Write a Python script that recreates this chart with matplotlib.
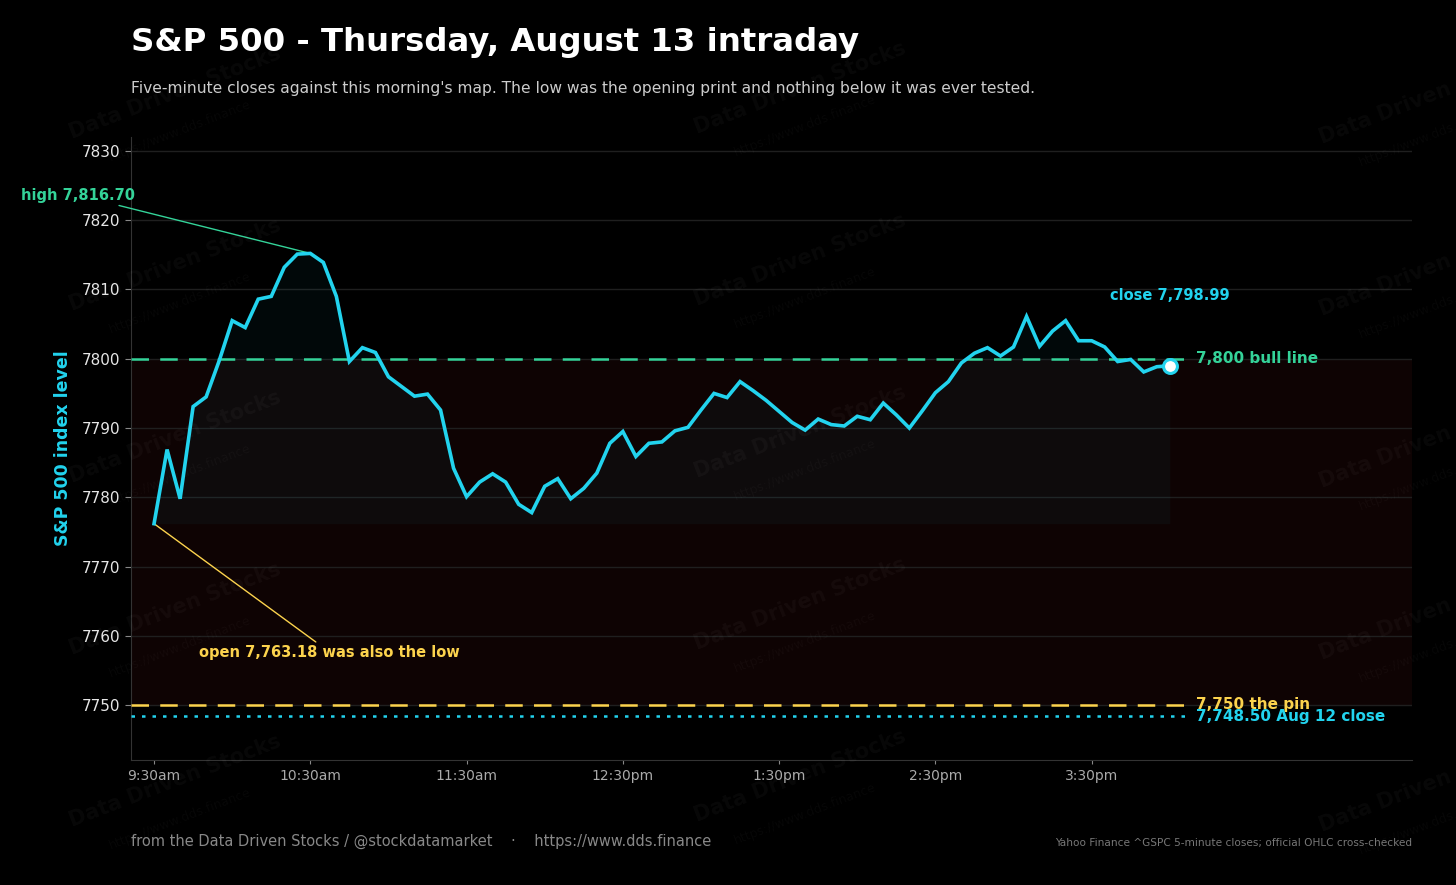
import matplotlib
matplotlib.use("Agg")
from matplotlib import pyplot as plt
import numpy as np

# five-minute closes, 9:30am .. 4:00pm
closes = [7776.2, 7786.9, 7779.8, 7793.1, 7794.5, 7799.7, 7805.5, 7804.5, 7808.6, 7809.0,
          7813.2, 7815.1, 7815.2, 7813.9, 7809.0, 7799.6, 7801.6, 7800.9, 7797.4, 7796.0,
          7794.6, 7794.9, 7792.6, 7784.2, 7780.1, 7782.2, 7783.4, 7782.2, 7779.0, 7777.8,
          7781.6, 7782.7, 7779.8, 7781.3, 7783.5, 7787.8, 7789.5, 7785.9, 7787.8, 7788.0,
          7789.6, 7790.1, 7792.6, 7795.0, 7794.4, 7796.7, 7795.4, 7794.0, 7792.4, 7790.8,
          7789.7, 7791.3, 7790.5, 7790.3, 7791.7, 7791.2, 7793.6, 7791.9, 7790.0, 7792.5,
          7795.1, 7796.7, 7799.4, 7800.8, 7801.6, 7800.4, 7801.7, 7806.1, 7801.8, 7804.0,
          7805.5, 7802.6, 7802.6, 7801.7, 7799.6, 7799.9, 7798.1, 7798.85, 7798.99]
tick_pos = [0, 12, 24, 36, 48, 60, 72]
tick_labels = ["9:30am", "10:30am", "11:30am", "12:30pm", "1:30pm", "2:30pm", "3:30pm"]
bull_line = 7800
pin = 7750
prev_close = 7748.50
high_idx = 12
close_val = 7798.99

CYAN = "#22d3ee"
GREEN = "#34d399"
YELLOW = "#fcd34d"

x = np.arange(len(closes))
y = np.array(closes)

fig = plt.figure(figsize=(14.56, 8.85), dpi=100)
fig.patch.set_facecolor("black")
ax = fig.add_axes([131/1456, 1 - 760/885, (1412 - 131)/1456, (760 - 137)/885])
ax.set_facecolor("black")

# bear/bull band
ax.axhspan(pin, bull_line, color="#ef4444", alpha=0.06, lw=0, zorder=0)
ax.fill_between(x, y, y.min(), color=CYAN, alpha=0.04, lw=0, zorder=1)
ax.plot(x, y, color=CYAN, lw=2.6, zorder=4, solid_joinstyle="miter")
ax.plot(x[-1], close_val, "o", ms=10, mfc="white", mec=CYAN, mew=2.2, zorder=5)

x0, x1 = -1.77, 96.6
ax.hlines(bull_line, x0, 79.2, color=GREEN, lw=1.8, linestyles=(0, (7, 4.5)), zorder=3)
ax.hlines(pin, x0, 79.2, color=YELLOW, lw=1.8, linestyles=(0, (7, 4.5)), zorder=3)
ax.hlines(prev_close, x0, 79.2, color=CYAN, lw=1.8, linestyles=(0, (1.4, 2.8)), zorder=3)

ax.text(80, bull_line, "7,800 bull line", color=GREEN, fontsize=11, fontweight="bold", va="center")
ax.text(80, pin + 0.1, "7,750 the pin", color=YELLOW, fontsize=11, fontweight="bold", va="center")
ax.text(80, prev_close - 0.1, "7,748.50 Aug 12 close", color=CYAN, fontsize=11, fontweight="bold", va="center")
ax.text(x[-1], 7809.06, "close 7,798.99", color=CYAN, fontsize=10.5, fontweight="bold",
        ha="center", va="center")

ax.annotate("high 7,816.70", xy=(high_idx, y[high_idx]), xytext=(-5.84, 7823.6),
            color=GREEN, fontsize=10.5, fontweight="bold", ha="center", va="center",
            annotation_clip=False,
            arrowprops=dict(arrowstyle="-", color=GREEN, lw=1, shrinkA=0, shrinkB=0))
ax.annotate("open 7,763.18 was also the low", xy=(0, y[0]), xytext=(13.5, 7757.65),
            color=YELLOW, fontsize=10.5, fontweight="bold", ha="center", va="center",
            arrowprops=dict(arrowstyle="-", color=YELLOW, lw=1, shrinkA=0, shrinkB=0))

ax.set_xlim(x0, x1)
ax.set_ylim(7742.1, 7832.0)
ax.set_yticks(np.arange(7750, 7831, 10))
ax.set_xticks(tick_pos)
ax.set_xticklabels(tick_labels)
ax.tick_params(axis="y", colors="#888888", labelcolor="#e6e6e6", labelsize=11, length=4)
ax.tick_params(axis="x", colors="#888888", labelcolor="#aaaaaa", labelsize=10, length=3)
ax.grid(axis="y", color="#1f1f1f", lw=1)
ax.set_axisbelow(True)
for s in ["top", "right"]:
    ax.spines[s].set_visible(False)
for s in ["left", "bottom"]:
    ax.spines[s].set_color("#333333")
ax.set_ylabel("S&P 500 index level", color=CYAN, fontsize=12.5, fontweight="bold", labelpad=7)

fig.text(131/1456, 1 - 51/885, "S&P 500 - Thursday, August 13 intraday", color="white",
         fontsize=23.3, fontweight="bold", va="baseline")
fig.text(131/1456, 1 - 93/885, "Five-minute closes against this morning's map. The low was the "
         "opening print and nothing below it was ever tested.", color="#cccccc", fontsize=11.2,
         va="baseline")
fig.text(131/1456, 1 - 846/885, "from the Data Driven Stocks / @stockdatamarket    \u00b7    "
         "https://www.dds.finance", color="#888888", fontsize=10.5, va="baseline")
fig.text(1412/1456, 1 - 846/885, "Yahoo Finance ^GSPC 5-minute closes; official OHLC cross-checked",
         color="#777777", fontsize=7.6, ha="right", va="baseline")

# watermark tiles
for cx, dy in [(175, 5), (800, 0), (1425, 10)]:
    for cy in [88, 260, 432, 604, 776]:
        fig.text(cx/1456, 1 - (cy + dy)/885, "Data Driven Stocks", color="white", alpha=0.035,
                 fontsize=15, fontweight="bold", rotation=21, ha="center", va="center", zorder=10)
        fig.text((cx + 5)/1456, 1 - (cy + dy + 38)/885, "https://www.dds.finance", color="white",
                 alpha=0.03, fontsize=9, rotation=21, ha="center", va="center", zorder=10)

fig.savefig("out.png", dpi=100, facecolor="black")
